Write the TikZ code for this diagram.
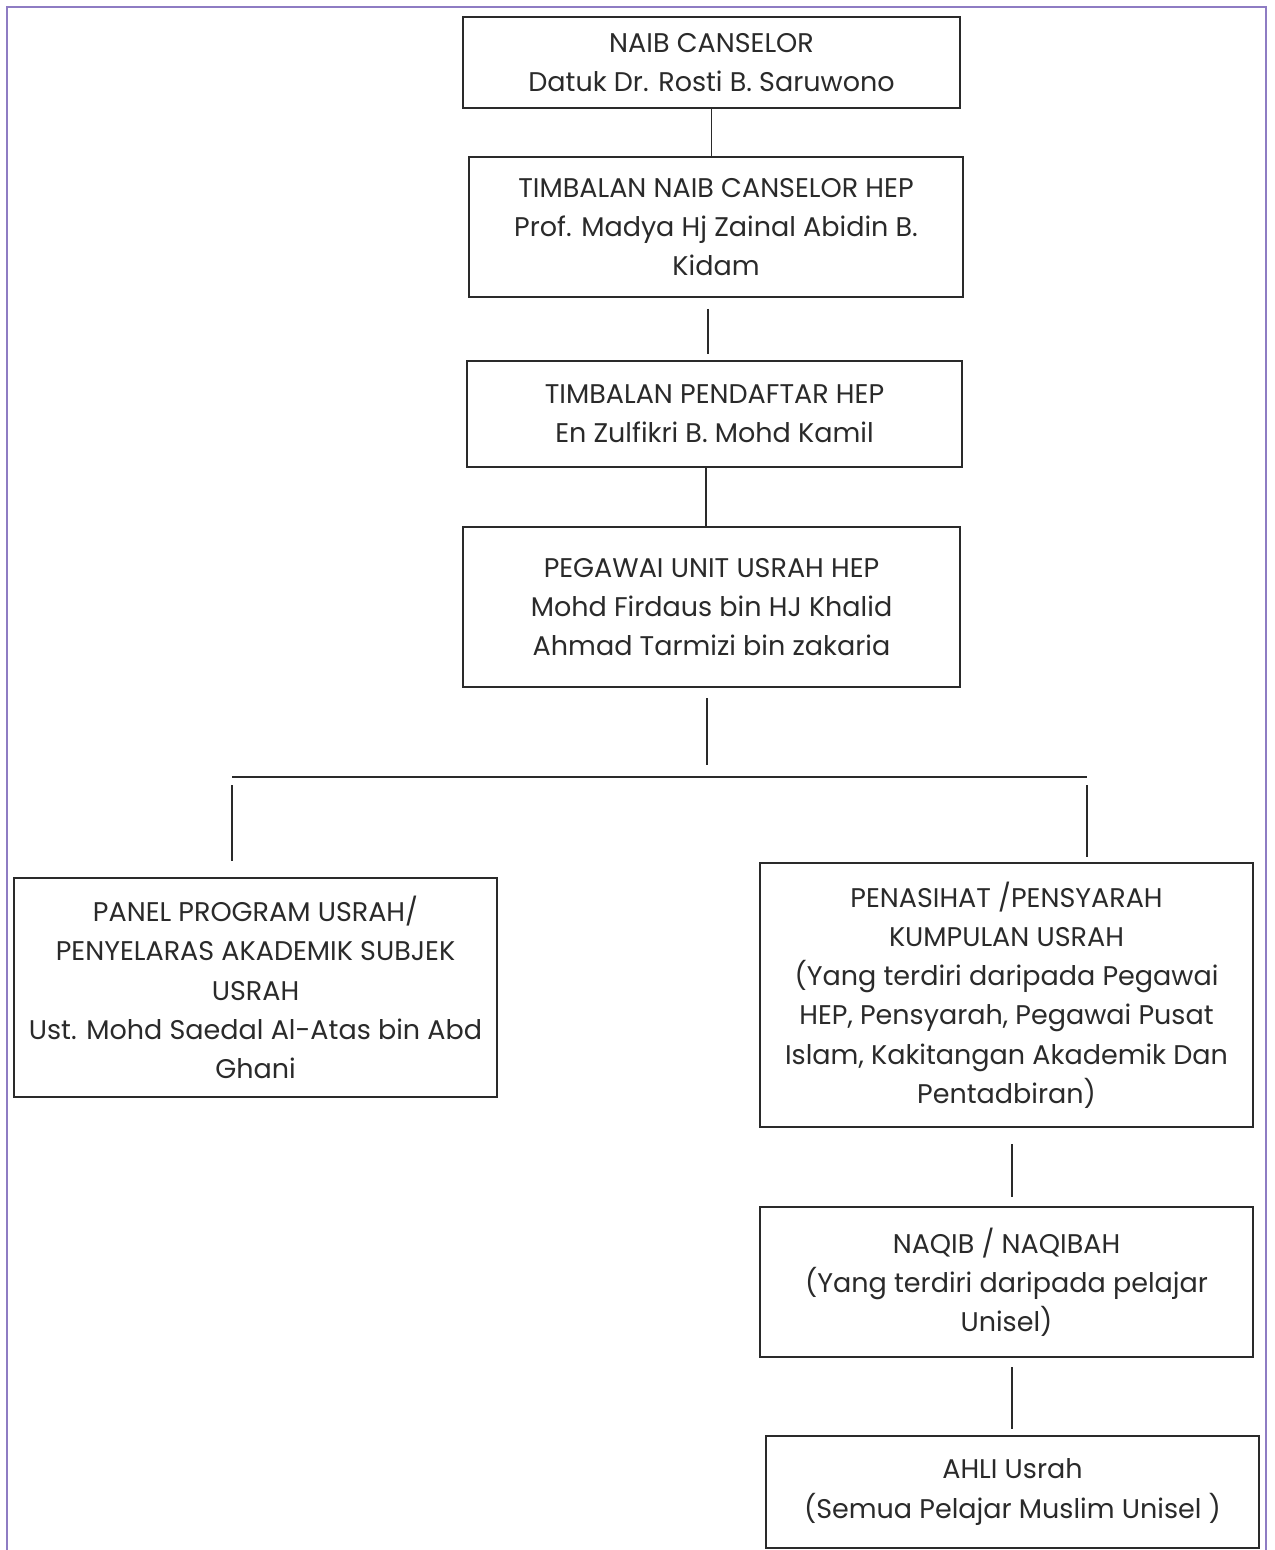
\documentclass[tikz,border=0pt]{standalone}
\usepackage{fontspec}
\setmainfont{Poppins}
\definecolor{borderc}{HTML}{8E7CC3}
\definecolor{ink}{HTML}{2A2A2A}
\begin{document}
\begin{tikzpicture}[x=0.5pt,y=-0.5pt,
  box/.style={draw=ink,line width=1pt,align=center,inner sep=0pt,
    font=\fontsize{13.5}{19.6}\selectfont,text=ink},
  conn/.style={draw=ink,line width=0.6pt},
  bar/.style={draw=ink,line width=1pt}]
\useasboundingbox (0,0) rectangle (1274,1550);
\fill[white] (0,0) rectangle (1274,1550);
\draw[borderc,line width=0.9pt] (7,1560) -- (7,7) -- (1266,7) -- (1266,1560);

\node[box,minimum width=248.5pt,minimum height=45.5pt] (b1) at (711.5,62.5)
  {NAIB CANSELOR\\Datuk Dr. Rosti B. Saruwono};
\node[box,minimum width=247pt,minimum height=70pt] (b2) at (716,227)
  {TIMBALAN NAIB CANSELOR HEP\\Prof. Madya Hj Zainal Abidin B.\\Kidam};
\node[box,minimum width=247.5pt,minimum height=53pt] (b3) at (714.5,414)
  {TIMBALAN PENDAFTAR HEP\\En Zulfikri B. Mohd Kamil};
\node[box,minimum width=248.5pt,minimum height=80pt] (b4) at (711.5,607)
  {PEGAWAI UNIT USRAH HEP\\Mohd Firdaus bin HJ Khalid\\Ahmad Tarmizi bin zakaria};
\node[box,minimum width=241.5pt,minimum height=109.5pt] (b5) at (255.5,987.5)
  {PANEL PROGRAM USRAH/\\PENYELARAS AKADEMIK SUBJEK\\USRAH\\Ust. Mohd Saedal Al-Atas bin Abd\\Ghani};
\node[box,minimum width=246.5pt,minimum height=132pt] (b6) at (1006.5,995)
  {PENASIHAT /PENSYARAH\\KUMPULAN USRAH\\(Yang terdiri daripada Pegawai\\HEP, Pensyarah, Pegawai Pusat\\Islam, Kakitangan Akademik Dan\\Pentadbiran)};
\node[box,minimum width=246.5pt,minimum height=75pt] (b7) at (1006.5,1282)
  {NAQIB / NAQIBAH\\(Yang terdiri daripada pelajar\\Unisel)};
\node[box,minimum width=246.5pt,minimum height=56pt] (b8) at (1012.5,1492)
  {AHLI Usrah\\(Semua Pelajar Muslim Unisel )};

\coordinate (j) at (707,765);
\coordinate (hl) at (232,777);
\coordinate (hr) at (1087,777);

\draw[conn] (b1.south) -- (b1.south |- b2.north);
\draw[conn] ([xshift=-4pt,yshift=-5.5pt]b2.south) -- ([xshift=-3.25pt,yshift=3pt]b3.north);
\draw[conn] ([xshift=-4.25pt]b3.south) -- ([xshift=-2.75pt]b4.north);
\draw[conn] ([xshift=-2.25pt,yshift=-5pt]b4.south) -- (j);
\draw[bar] (hl) -- (hr);
\draw[conn] ([yshift=-4pt]hl) -- ([xshift=-11.75pt,yshift=8pt]b5.north);
\draw[conn] ([yshift=-4pt]hr) -- ([xshift=40.25pt,yshift=2.5pt]b6.north);
\draw[conn] ([xshift=2.75pt,yshift=-8pt]b6.south) -- ([xshift=2.75pt,yshift=4.5pt]b7.north);
\draw[conn] ([xshift=2.75pt,yshift=-4.5pt]b7.south) -- ([xshift=-0.25pt,yshift=3pt]b8.north);
\end{tikzpicture}
\end{document}
